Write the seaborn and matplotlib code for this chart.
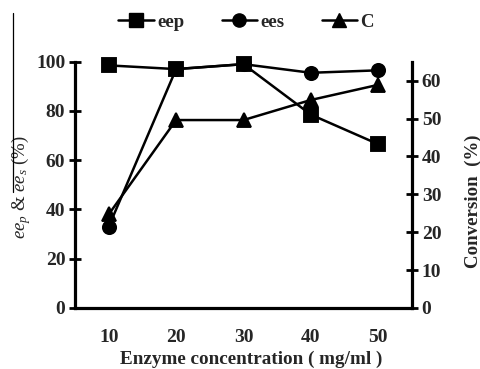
import matplotlib
matplotlib.use("Agg")
import matplotlib.pyplot as plt
import seaborn as sns
import pandas as pd
from matplotlib.ticker import FixedLocator
from matplotlib.lines import Line2D

concentration = ["10", "20", "30", "40", "50"]
eep = [98.5, 97.0, 99.0, 78.5, 66.5]
ees = [33.0, 97.0, 99.0, 95.5, 96.5]
conversion = [24.7, 49.6, 49.6, 54.9, 58.9]
left_ticks = [0, 20, 40, 60, 80, 100]
right_ticks = [0, 10, 20, 30, 40, 50, 60]

sns.set_theme(style="white")
plt.rcParams['font.family'] = ['Liberation Serif', 'DejaVu Serif']
plt.rcParams['font.weight'] = 'bold'
plt.rcParams['mathtext.fontset'] = 'custom'
plt.rcParams['mathtext.it'] = 'Liberation Serif:style=italic:weight=normal'
plt.rcParams['mathtext.rm'] = 'Liberation Serif:weight=normal'

df = pd.DataFrame({"conc": concentration, "eep": eep, "ees": ees, "C": conversion})

fig = plt.figure(figsize=(4.81, 3.69), dpi=100)
ax = fig.add_axes([75/481, 1-308/369, 337/481, (308-61.7)/369])
ax2 = ax.twinx()

common = dict(color='black', errorbar=None, linewidth=1.8, markersize=9.5)
sns.pointplot(data=df, x='conc', y='ees', order=concentration, marker='o', ax=ax, **common)
sns.pointplot(data=df, x='conc', y='eep', order=concentration, marker='s', ax=ax, **common)
sns.pointplot(data=df, x='conc', y='C', order=concentration, marker='^', ax=ax2, **common)
for a in (ax, ax2):
    for ln in a.lines:
        ln.set_clip_on(False)

fs = 14
ax.set_ylim(0, 100)
ax.set_yticks(left_ticks)
ax.set_yticklabels([str(t) for t in left_ticks], fontsize=fs, fontweight='bold')
ax2.set_ylim(0, 65)
ax2.set_yticks(right_ticks)
ax2.set_yticklabels([str(t) for t in right_ticks], fontsize=fs, fontweight='bold')

ax.set_xlim(-0.5, 4.5)
ax.set_xticks(range(len(concentration)))
ax.set_xticklabels(concentration, fontsize=fs, fontweight='bold')
ax.xaxis.set_minor_locator(FixedLocator([i - 0.5 for i in range(len(concentration) + 1)]))
ax.tick_params(axis='x', which='major', length=0, pad=15)
ax.tick_params(axis='x', which='minor', direction='inout', length=8, width=2, color='black')
ax.tick_params(axis='y', which='major', direction='inout', length=8, width=2, color='black', pad=3, left=True)
ax2.tick_params(axis='y', which='major', direction='inout', length=8, width=2, color='black', pad=3, right=True)

for s in ['top', 'right']:
    ax.spines[s].set_visible(False)
for s in ['left', 'bottom']:
    ax.spines[s].set_linewidth(2.3)
    ax.spines[s].set_color('black')
for s in ['top', 'left', 'bottom']:
    ax2.spines[s].set_visible(False)
ax2.spines['right'].set_linewidth(2.3)
ax2.spines['right'].set_color('black')

ax.set_xlabel("Enzyme concentration ( mg/ml )", fontsize=13.8, fontweight='bold')
ax.xaxis.set_label_coords(0.524, -0.175)
ax.set_ylabel(r"$ee_p$ & $ee_s$ (%)", fontsize=13.5, fontweight='normal')
ax.yaxis.set_label_coords(-0.125, 0.49)
ax2.set_ylabel("Conversion  (%)", fontsize=13.6, fontweight='bold')
ax2.yaxis.set_label_coords(1.157, 0.434)

handles = [Line2D([], [], color='black', marker=m, markersize=9.5, linewidth=1.8)
           for m in ['s', 'o', '^']]
fig.legend(handles, ['eep', 'ees', 'C'], loc='center', bbox_to_anchor=(246/481, 1-22/369),
           ncol=3, frameon=False, handlelength=1.9, handletextpad=0.15, columnspacing=2.0,
           prop={'family': 'Liberation Serif', 'weight': 'bold', 'size': 13.5})

fig.add_artist(Line2D([12.7/481, 12.7/481], [1-13/369, 1-192/369], transform=fig.transFigure,
                      color='black', linewidth=0.9))

fig.savefig("out.png", dpi=100)
